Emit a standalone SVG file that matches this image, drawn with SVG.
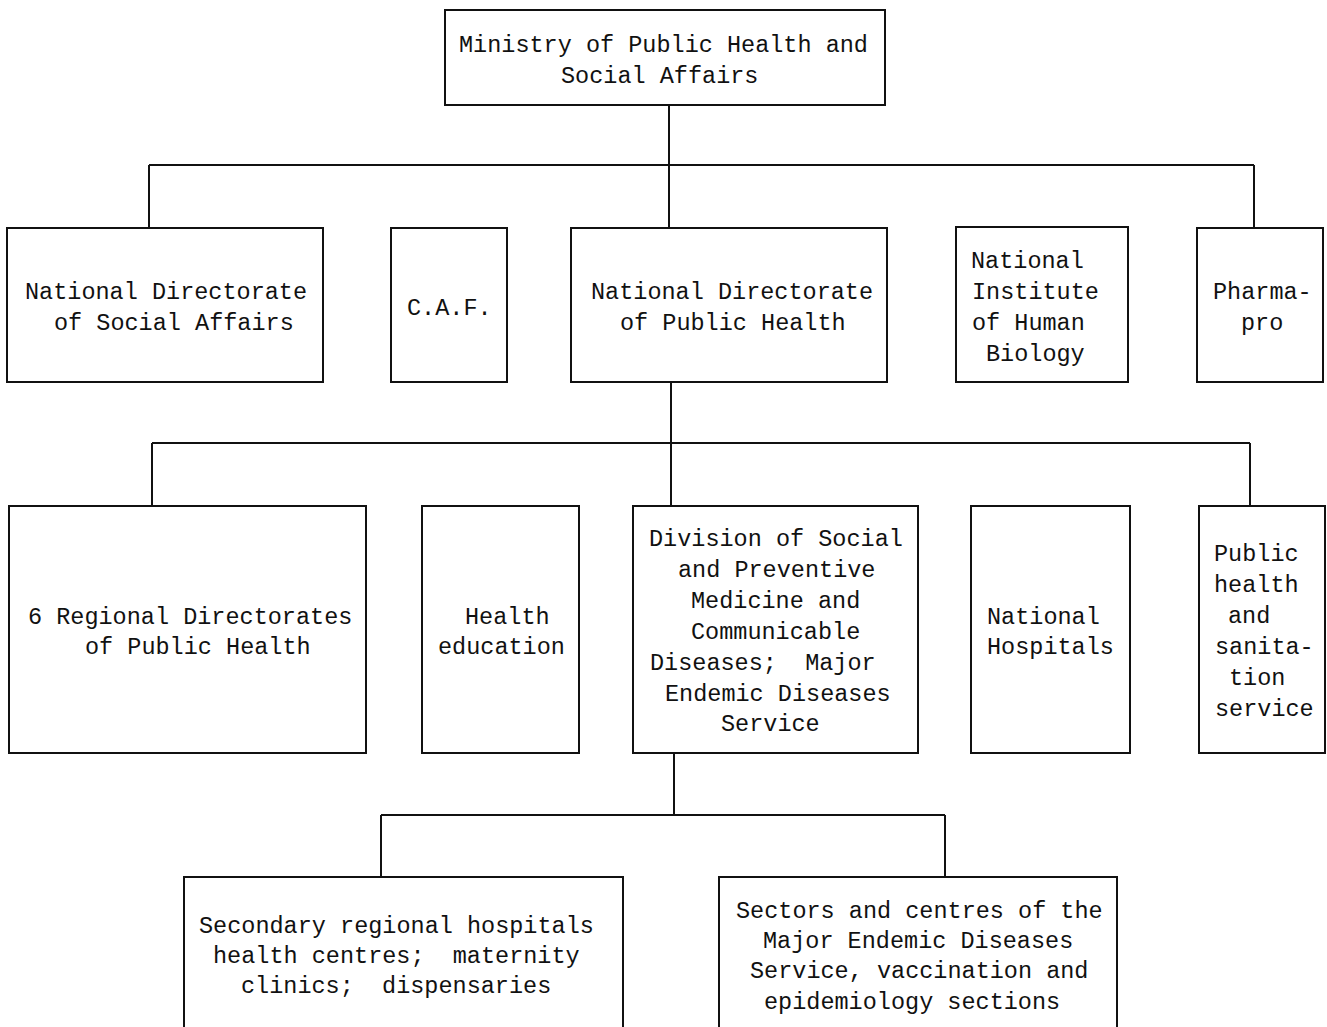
<svg xmlns="http://www.w3.org/2000/svg" width="1327" height="1027" viewBox="0 0 1327 1027">
<style>
.box{fill:none;stroke:#111;stroke-width:2}
.conn line{stroke:#111;stroke-width:2}
text{font-family:"Liberation Mono","DejaVu Sans Mono",monospace;font-size:23.5px;fill:#111}
</style>
<rect width="1327" height="1027" fill="#fff"/>
<g id="connectors" class="conn">
<line x1="669" y1="105" x2="669" y2="228"/>
<line x1="149" y1="165" x2="1254" y2="165"/>
<line x1="149" y1="165" x2="149" y2="228"/>
<line x1="1254" y1="165" x2="1254" y2="228"/>
<line x1="671" y1="382" x2="671" y2="506"/>
<line x1="152" y1="443" x2="1250" y2="443"/>
<line x1="152" y1="443" x2="152" y2="506"/>
<line x1="1250" y1="443" x2="1250" y2="506"/>
<line x1="674" y1="753" x2="674" y2="815"/>
<line x1="381" y1="815" x2="945" y2="815"/>
<line x1="381" y1="815" x2="381" y2="877"/>
<line x1="945" y1="815" x2="945" y2="877"/>
</g>
<g id="ministry">
<rect class="box" x="445" y="10" width="440" height="95"/>
<text x="459" y="52">Ministry of Public Health and</text>
<text x="561" y="83">Social Affairs</text>
</g>
<g id="nd-social">
<rect class="box" x="7" y="228" width="316" height="154"/>
<text x="25" y="299">National Directorate</text>
<text x="54" y="330">of Social Affairs</text>
</g>
<g id="caf">
<rect class="box" x="391" y="228" width="116" height="154"/>
<text x="407" y="315">C.A.F.</text>
</g>
<g id="nd-health">
<rect class="box" x="571" y="228" width="316" height="154"/>
<text x="591" y="299">National Directorate</text>
<text x="620" y="330">of Public Health</text>
</g>
<g id="nihb">
<rect class="box" x="956" y="227" width="172" height="155"/>
<text x="971" y="268">National</text>
<text x="972" y="299">Institute</text>
<text x="972" y="330">of Human</text>
<text x="986" y="361">Biology</text>
</g>
<g id="pharmapro">
<rect class="box" x="1197" y="228" width="126" height="154"/>
<text x="1213" y="299">Pharma-</text>
<text x="1241" y="330">pro</text>
</g>
<g id="regional">
<rect class="box" x="9" y="506" width="357" height="247"/>
<text x="28" y="624">6 Regional Directorates</text>
<text x="85" y="654">of Public Health</text>
</g>
<g id="health-ed">
<rect class="box" x="422" y="506" width="157" height="247"/>
<text x="465" y="624">Health</text>
<text x="438" y="654">education</text>
</g>
<g id="division">
<rect class="box" x="633" y="506" width="285" height="247"/>
<text x="649" y="546">Division of Social</text>
<text x="678" y="577">and Preventive</text>
<text x="691" y="608">Medicine and</text>
<text x="691" y="639">Communicable</text>
<text x="650" y="670" xml:space="preserve">Diseases;  Major</text>
<text x="665" y="701">Endemic Diseases</text>
<text x="721" y="731">Service</text>
</g>
<g id="nat-hosp">
<rect class="box" x="971" y="506" width="159" height="247"/>
<text x="987" y="624">National</text>
<text x="987" y="654">Hospitals</text>
</g>
<g id="sanitation">
<rect class="box" x="1199" y="506" width="126" height="247"/>
<text x="1214" y="561">Public</text>
<text x="1214" y="592">health</text>
<text x="1228" y="623">and</text>
<text x="1215" y="654">sanita-</text>
<text x="1229" y="685">tion</text>
<text x="1215" y="716">service</text>
</g>
<g id="secondary">
<path class="box" d="M184 1027 V877 H623 V1027"/>
<text x="199" y="933">Secondary regional hospitals</text>
<text x="213" y="963" xml:space="preserve">health centres;  maternity</text>
<text x="241" y="993" xml:space="preserve">clinics;  dispensaries</text>
</g>
<g id="sectors">
<path class="box" d="M719 1027 V877 H1117 V1027"/>
<text x="736" y="918">Sectors and centres of the</text>
<text x="763" y="948">Major Endemic Diseases</text>
<text x="750" y="978">Service, vaccination and</text>
<text x="764" y="1009">epidemiology sections</text>
</g>
</svg>
